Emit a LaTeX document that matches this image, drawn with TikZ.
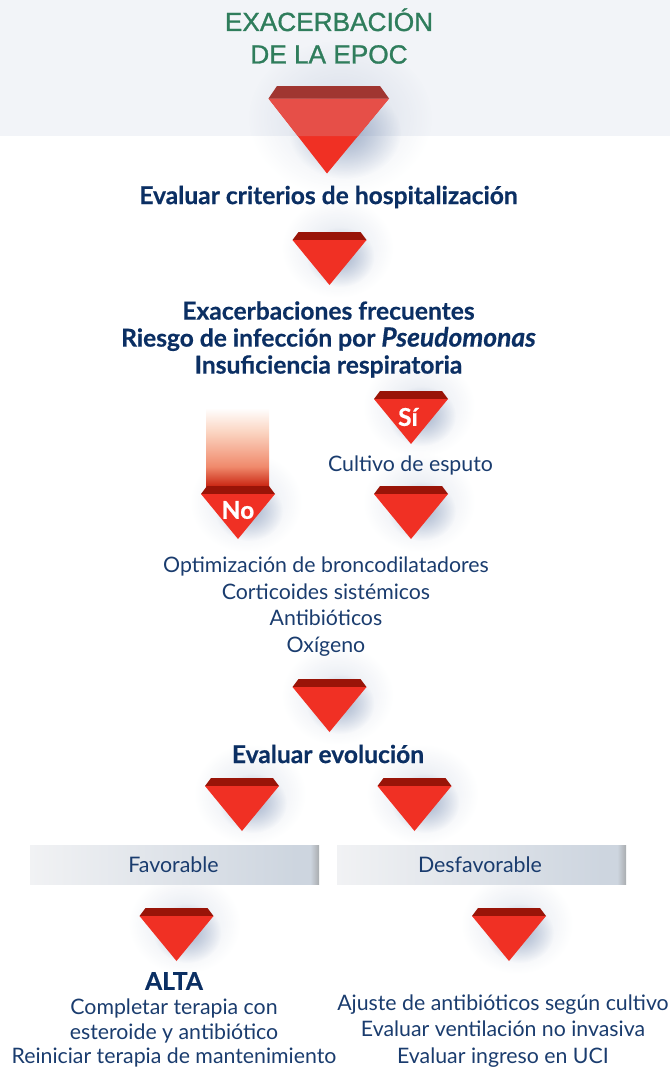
\documentclass[tikz,border=0pt]{standalone}
\usepackage{fontspec}
\setmainfont{Lato}[BoldFeatures={FakeBold=0.5},BoldItalicFeatures={FakeBold=0.5}]
\newfontfamily\titlefont[FakeBold=1.1]{Liberation Sans}
\usetikzlibrary{fadings}
\definecolor{navy}{HTML}{0B2F63}
\definecolor{bodynavy}{HTML}{1A3C6E}
\definecolor{titlegreen}{HTML}{2F7D5C}
\definecolor{gemred}{HTML}{F03024}
\definecolor{gemdark}{HTML}{991408}
\definecolor{gemlight}{HTML}{E64F48}
\definecolor{gemtop}{HTML}{A03631}
\definecolor{gemshadow}{HTML}{6F86AD}
\definecolor{bandgray}{HTML}{F2F4F8}
\definecolor{barA}{HTML}{F1F2F4}
\definecolor{barB}{HTML}{CDD5DF}
\definecolor{barC}{HTML}{A9ACAF}
\definecolor{fadeA}{HTML}{FBD5C2}
\definecolor{fadeB}{HTML}{F08A6C}
\definecolor{fadeC}{HTML}{C8220F}
\pgfdeclarehorizontalshading{barshade}{100bp}{color(0bp)=(barA); color(25bp)=(barA); color(71bp)=(barB); color(73.5bp)=(barB); color(75bp)=(barC); color(100bp)=(barC)}
\pgfdeclareverticalshading{fadebar}{100bp}{color(0bp)=(fadeC); color(25bp)=(fadeC); color(38bp)=(fadeB); color(60bp)=(fadeA); color(75bp)=(white); color(100bp)=(white)}
\tikzfading[name=softfade, inner color=transparent!0, outer color=transparent!100]
\tikzset{
  x=1pt,y=-1pt,
  heading/.style={font=\fontsize{24.6}{27}\selectfont\bfseries,text=navy,align=center,inner sep=0pt},
  bodytext/.style={font=\fontsize{21.3}{26.7}\selectfont,text=bodynavy,align=center,inner sep=0pt},
  gemlabel/.style={font=\fontsize{24.5}{26}\selectfont\bfseries,text=white,inner sep=0pt},
  bartext/.style={font=\fontsize{21.4}{24}\selectfont,text=bodynavy,inner sep=0pt},
  pics/gemglow/.style={code={
    \fill[gemshadow,opacity=.22,path fading=softfade] (8,3) ellipse [x radius=56,y radius=50];
    \fill[gemshadow,opacity=.55,path fading=softfade] (11,12) ellipse [x radius=34,y radius=30];
  }},
  pics/gembody/.style={code={
    \fill[gemdark] (-31,-13) -- (31,-13) -- (37,-5) -- (-37,-5) -- cycle;
    \fill[gemred] (-37,-5) -- (37,-5) -- (0,40) -- cycle;
  }},
  pics/gem/.style={code={
    \pic {gemglow};
    \pic {gembody};
  }},
}
\begin{document}
\begin{tikzpicture}
\useasboundingbox (0,0) rectangle (670,1068);
\fill[bandgray] (0,0) rectangle (670,136);
% large gem
\fill[gemshadow,opacity=.22,path fading=softfade] (340,118) ellipse [x radius=92,y radius=78];
\fill[gemshadow,opacity=.6,path fading=softfade] (345,133) ellipse [x radius=56,y radius=46];
\fill[gemred] (268.5,98.5) -- (389,98.5) -- (327,173.5) -- cycle;
\fill[gemlight] (268.5,98.5) -- (389,98.5) -- (358,136) -- (298,136) -- cycle;
\fill[gemtop] (277,86) -- (380,86) -- (389,98.5) -- (268.5,98.5) -- cycle;
% gems
\pic at (329.5,245) {gem};
\pic at (238,499) {gemglow};
\shade[shading=fadebar] (206,408) rectangle (269,487);
\pic at (238,499) {gembody};
\pic at (411,404) {gem};
\pic at (411,499) {gem};
\pic at (329.5,692) {gem};
\pic at (242,791) {gem};
\pic at (414.5,791) {gem};
\pic at (176.5,921) {gem};
\pic at (509,921) {gem};
\shade[shading=barshade] (30,845) rectangle (319,884);
\shade[shading=barshade] (337,845) rectangle (626,884);
% texts
\node[font=\titlefont\fontsize{26.2}{32.5}\selectfont,text=titlegreen,align=center,inner sep=0pt] (title) at (329,36) {EXACERBACIÓN\\DE LA EPOC};
\node[heading] (criterios) at (328.5,197) {Evaluar criterios de hospitalización};
\node[heading] (frecuentes) at (328.5,339.5) {Exacerbaciones frecuentes\\Riesgo de infección por {\fontsize{26.4}{27}\selectfont\itshape Pseudomonas}\\Insuficiencia respiratoria};
\node[gemlabel] (no) at (238,510) {No};
\node[gemlabel] (si) at (408,417) {Sí};
\node[bodytext] (cultivo) at (410.5,465.5) {Cultivo de esputo};
\node[bodytext] (trat) at (326,606.5) {Optimización de broncodilatadores\\Corticoides sistémicos\\Antibióticos\\Oxígeno};
\node[heading] (evolucion) at (328,754) {Evaluar evolución};
\node[bartext] (fav) at (173.5,864.5) {Favorable};
\node[bartext] (desf) at (480,864.5) {Desfavorable};
\node[heading] (alta) at (174,981) {ALTA};
\node[bodytext,font=\fontsize{21.3}{24.6}\selectfont] (alta1) at (174,1033) {Completar terapia con\\esteroide y antibiótico\\Reiniciar terapia de mantenimiento};
\node[bodytext] (desf1) at (503,1031) {Ajuste de antibióticos según cultivo\\Evaluar ventilación no invasiva\\Evaluar ingreso en UCI};
\end{tikzpicture}
\end{document}
